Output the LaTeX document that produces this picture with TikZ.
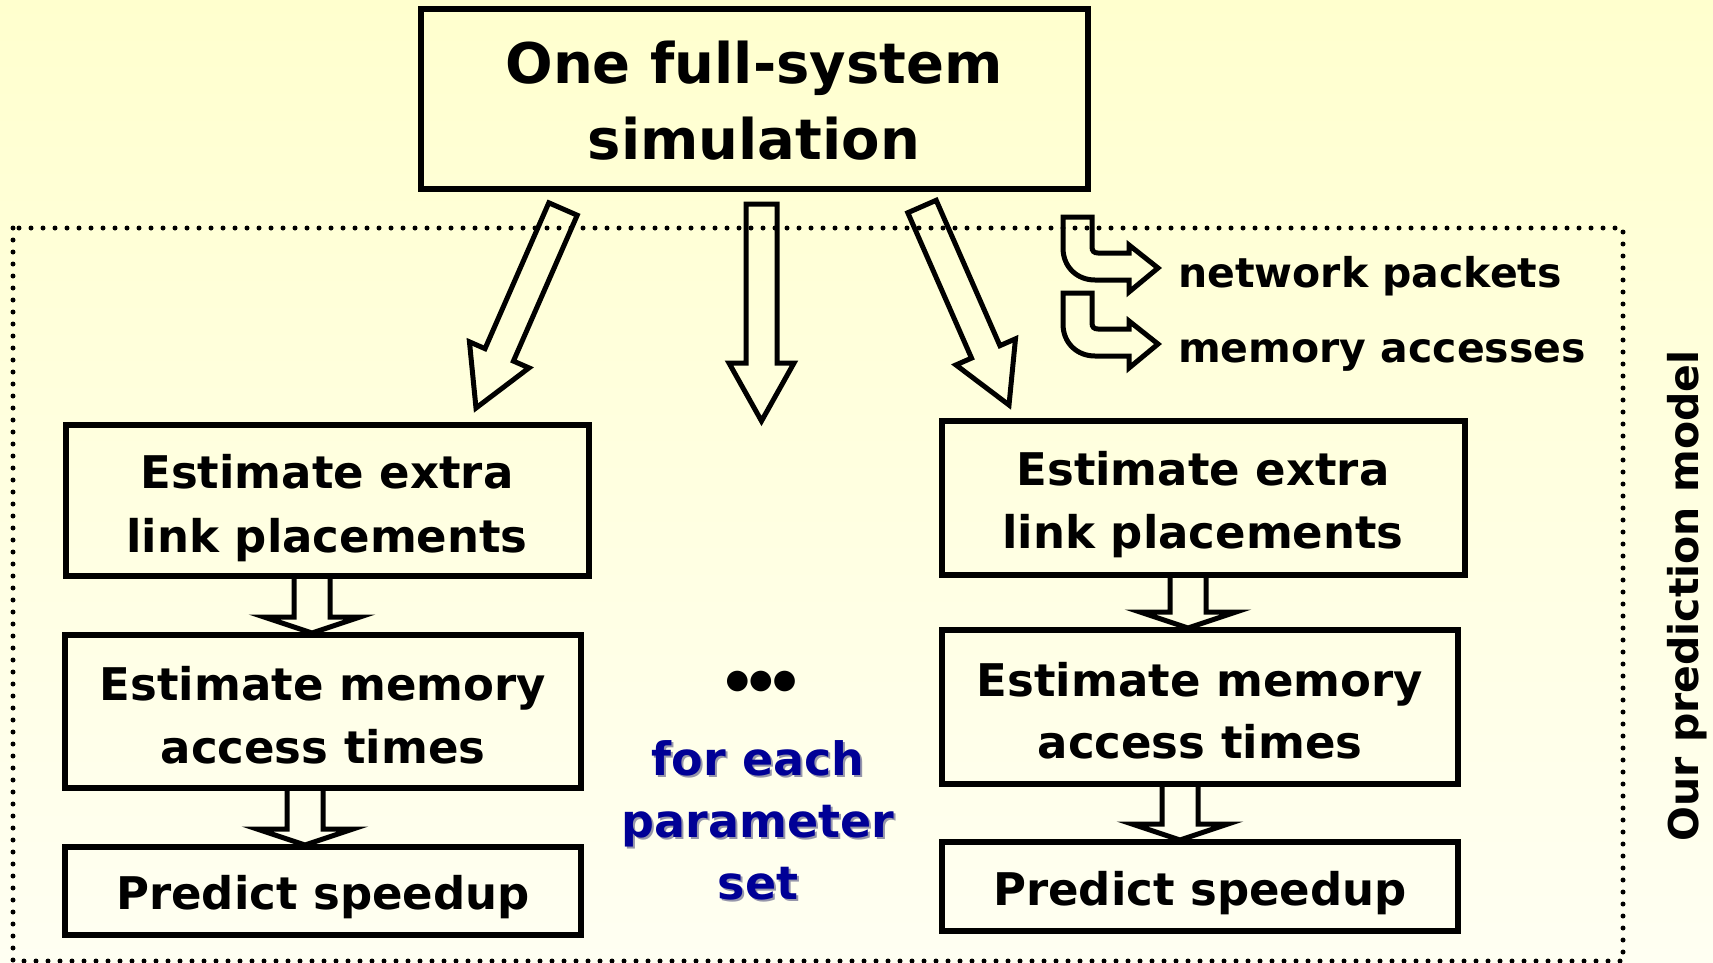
\documentclass[tikz,border=0pt]{standalone}
\usepackage{fontspec}
\setmainfont{DejaVu Sans}
\usetikzlibrary{calc}

\definecolor{bgtop}{RGB}{255,255,206}
\definecolor{bgbot}{RGB}{255,255,242}
\definecolor{setblue}{RGB}{0,0,150}
\definecolor{setshadow}{RGB}{150,150,170}

\tikzset{
  box/.style={draw=black, line width=5.5pt, inner sep=0pt, outer sep=0pt},
  hollow/.style={draw=black, line width=5pt, line join=miter, miter limit=8},
  modelframe/.style={draw=black, line width=5pt, line cap=round,
                     dash pattern=on 0pt off 12pt},
  titletext/.style={anchor=base, inner sep=0pt, font=\fontsize{56}{60}\selectfont\bfseries},
  boxtext/.style={anchor=base, inner sep=0pt, font=\fontsize{45}{50}\selectfont\bfseries},
  legendtext/.style={inner sep=0pt, font=\fontsize{41}{45}\selectfont\bfseries},
  settext/.style={anchor=base, inner sep=0pt, text=setblue, font=\fontsize{46}{50}\selectfont\bfseries},
  setshade/.style={anchor=base, inner sep=0pt, text=setshadow, font=\fontsize{46}{50}\selectfont\bfseries},
  pics/turnarrow/.style={code={
    \draw[hollow] (0,0) -- (29,0) -- (29,30)
      .. controls (29,34) and (31,36) .. (35,36) -- (66,36) -- (66,28)
      -- (95,51) -- (66,75) -- (66,63) -- (32,63)
      .. controls (14,63) and (0,50) .. (0,31) -- cycle;
  }}
}

% hollow block arrow: tail, tip, half shaft width, half head width, head length
\newcommand\hollowarrow[5]{%
  \draw[hollow] ($(#1)!#3!90:(#2)$)
    -- ($(#2)!#5!(#1)!#3!-90:(#1)$)
    -- ($(#2)!#5!(#1)!#4!-90:(#1)$)
    -- (#2)
    -- ($(#2)!#5!(#1)!#4!90:(#1)$)
    -- ($(#2)!#5!(#1)!#3!90:(#1)$)
    -- ($(#1)!#3!-90:(#2)$) -- cycle;}

\begin{document}
\begin{tikzpicture}[x=1pt,y=-1pt]
  \useasboundingbox (0,0) rectangle (1713,962);
  \fill[top color=bgtop, bottom color=bgbot] (0,0) rectangle (1713,962);

  % frame of the prediction model
  \draw[modelframe] (13,228) rectangle (1623,961);

  % boxes
  \node[box, minimum width=667, minimum height=180] (T)  at (754.5,99)   {};
  \node[box, minimum width=523, minimum height=151] (L1) at (327.5,500.5) {};
  \node[box, minimum width=516, minimum height=153] (L2) at (323,711.5)  {};
  \node[box, minimum width=516, minimum height=88]  (L3) at (323,891)    {};
  \node[box, minimum width=523, minimum height=154] (R1) at (1203.5,498) {};
  \node[box, minimum width=516, minimum height=154] (R2) at (1200,707)   {};
  \node[box, minimum width=516, minimum height=89]  (R3) at (1200,886.5) {};

  % texts in boxes
  \node[titletext] (t1) at (754,83)  {One full-system};
  \node[titletext] (t2) at (754,159) {simulation};
  \node[boxtext] (l1a) at (327,488) {Estimate extra};
  \node[boxtext] (l1b) at (327,552) {link placements};
  \node[boxtext] (l2a) at (323,700) {Estimate memory};
  \node[boxtext] (l2b) at (323,763) {access times};
  \node[boxtext] (l3a) at (323,909) {Predict speedup};
  \node[boxtext] (r1a) at (1203,485) {Estimate extra};
  \node[boxtext] (r1b) at (1203,548) {link placements};
  \node[boxtext] (r2a) at (1200,696) {Estimate memory};
  \node[boxtext] (r2b) at (1200,758) {access times};
  \node[boxtext] (r3a) at (1200,905) {Predict speedup};

  % arrows from the simulation
  \coordinate (aLs) at ($(T.south)+(-191.5,20)$);
  \coordinate (aLe) at ($(L1.north)+(148.5,-17)$);
  \coordinate (aMs) at ($(T.south)+(7,15)$);
  \coordinate (aMe) at (761.5,421);
  \coordinate (aRs) at ($(T.south)+(167.5,17.5)$);
  \coordinate (aRe) at ($(R1.north)+(-194.5,-16)$);
  \hollowarrow{aLs}{aLe}{15.5pt}{32.5pt}{58pt}
  \hollowarrow{aMs}{aMe}{15.5pt}{32.5pt}{58pt}
  \hollowarrow{aRs}{aRe}{15.5pt}{32.5pt}{58pt}

  % arrows between the steps
  \coordinate (s1s) at ($(L1.south)+(-15.5,0)$);
  \coordinate (s1e) at ($(L2.north)+(-11,-2)$);
  \coordinate (s2s) at ($(L2.south)+(-18,0)$);
  \coordinate (s2e) at ($(L3.north)+(-18,-2)$);
  \coordinate (s3s) at ($(R1.south)+(-15.5,0)$);
  \coordinate (s3e) at ($(R2.north)+(-12,-2)$);
  \coordinate (s4s) at ($(R2.south)+(-20,0)$);
  \coordinate (s4e) at ($(R3.north)+(-20,-2)$);
  \hollowarrow{s1s}{s1e}{18pt}{48pt}{16pt}
  \hollowarrow{s2s}{s2e}{18pt}{48pt}{16pt}
  \hollowarrow{s3s}{s3e}{18pt}{48pt}{16pt}
  \hollowarrow{s4s}{s4e}{18pt}{48pt}{16pt}

  % legend
  \pic at (1063,217) {turnarrow};
  \pic at (1063,293) {turnarrow};
  \node[legendtext, anchor=base west] (lg1) at (1178,287) {network packets};
  \node[legendtext, anchor=base west] (lg2) at (1178,362) {memory accesses};

  % side label
  \node[legendtext, anchor=base, rotate=90] (side) at (1698,596) {Our prediction model};

  % middle column
  \node[anchor=base, inner sep=0pt, font=\fontsize{27}{30}\selectfont] (dots) at (761,688) {●●●};
  \node[setshade] at (760,777) {for each};
  \node[setshade] at (760,839) {parameter};
  \node[setshade] at (760,901) {set};
  \node[settext] (f1) at (758,775) {for each};
  \node[settext] (f2) at (758,837) {parameter};
  \node[settext] (f3) at (758,899) {set};
\end{tikzpicture}
\end{document}
